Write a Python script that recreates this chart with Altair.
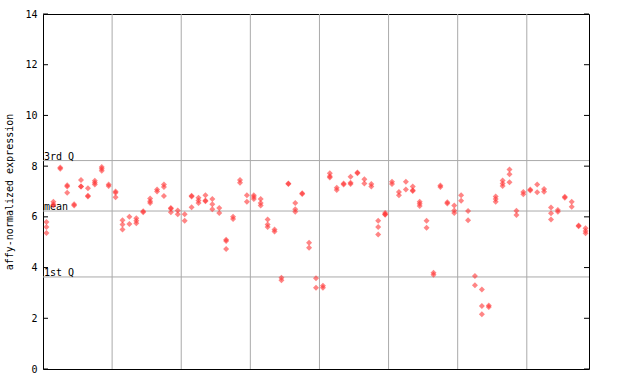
import altair as alt
import pandas as pd

# replicate expression values per sample column (79 samples)
sample_values = [
    [5.80, 5.60, 5.36], [6.60, 6.50, 6.45], [7.95, 7.90], [7.25, 7.20, 6.95],
    [6.50, 6.45], [7.45, 7.20, 7.20], [7.13, 6.83, 6.80], [7.42, 7.35, 7.28],
    [7.97, 7.90, 7.82], [7.28, 7.22], [7.00, 6.95, 6.77], [5.87, 5.70, 5.50],
    [6.00, 5.72], [5.95, 5.85, 5.75], [6.22, 6.18], [6.72, 6.62, 6.55],
    [7.08, 7.00], [7.28, 7.18, 6.82], [6.35, 6.32, 6.18], [6.25, 6.10],
    [6.10, 5.85], [6.83, 6.80, 6.38], [6.75, 6.65, 6.55], [6.85, 6.65, 6.62],
    [6.70, 6.50, 6.30], [6.35, 6.15], [5.10, 5.05, 4.73], [6.00, 5.92],
    [7.45, 7.35], [6.85, 6.60], [6.85, 6.78, 6.70], [6.70, 6.55, 6.45],
    [5.90, 5.70, 5.60], [5.50, 5.42], [3.60, 3.50], [7.32, 7.30],
    [6.55, 6.30, 6.20], [6.93, 6.90], [4.98, 4.78], [3.58, 3.20],
    [3.28, 3.20], [7.72, 7.60, 7.55], [7.15, 7.06], [7.32, 7.28],
    [7.58, 7.35, 7.30], [7.75, 7.72], [7.48, 7.32], [7.30, 7.20],
    [5.85, 5.60, 5.30], [6.15, 6.10, 6.08], [7.38, 7.30], [6.98, 6.85],
    [7.38, 7.08], [7.20, 7.05, 7.02], [6.60, 6.52, 6.43], [5.85, 5.57],
    [3.80, 3.72], [7.24, 7.18], [6.58, 6.53], [6.45, 6.25, 6.15],
    [6.85, 6.64], [6.23, 5.87], [3.67, 3.30], [3.14, 2.48, 2.16],
    [2.50, 2.45], [6.80, 6.70, 6.60], [7.43, 7.32, 7.22], [7.87, 7.68, 7.36],
    [6.24, 6.07], [6.98, 6.89], [7.08, 7.04], [7.28, 6.97],
    [7.10, 6.99], [6.37, 6.14, 5.90], [6.27, 6.20], [6.79, 6.75],
    [6.60, 6.40], [5.66, 5.63], [5.55, 5.44, 5.35],
]

grid_positions = [10, 20, 30, 40, 50, 60, 70]
ref_labels = ["3rd Q", "mean", "1st Q"]
ref_values = [8.22, 6.23, 3.63]
y_ticks = [0, 2, 4, 6, 8, 10, 12, 14]

rows = []
for i, vals in enumerate(sample_values):
    for v in vals:
        rows.append({"pos": i + 0.5, "value": v})
points = pd.DataFrame(rows)
grid_df = pd.DataFrame({"g": grid_positions})
ref_df = pd.DataFrame({"label": ref_labels, "value": ref_values})
tick_df = pd.DataFrame({"t": y_ticks})

n = len(sample_values)
xs = alt.Scale(domain=[0, n], nice=False, zero=False)
ys = alt.Scale(domain=[0, 14], nice=False, zero=False)
FONT = "DejaVu Sans Mono"

vgrid = alt.Chart(grid_df).mark_rule(color="#aaaaaa", strokeWidth=1).encode(
    x=alt.X("g:Q", scale=xs, axis=None)
)

hlines = alt.Chart(ref_df).mark_rule(color="#aaaaaa", strokeWidth=1).encode(
    y=alt.Y("value:Q", scale=ys)
)

hlabels = alt.Chart(ref_df).mark_text(
    align="left", baseline="bottom", font=FONT, fontSize=10, color="black", dx=1, dy=1
).encode(
    x=alt.value(0),
    y=alt.Y("value:Q", scale=ys),
    text="label:N",
)

left_ticks = alt.Chart(tick_df).mark_rule(color="black").encode(
    x=alt.value(0), x2=alt.value(5), y=alt.Y("t:Q", scale=ys)
)
right_ticks = alt.Chart(tick_df).mark_rule(color="black").encode(
    x=alt.value(541), x2=alt.value(546), y=alt.Y("t:Q", scale=ys)
)

pts = alt.Chart(points).mark_point(
    shape="diamond", filled=True, size=36, color="#ff3333", opacity=0.6
).encode(
    x=alt.X("pos:Q", scale=xs, axis=None),
    y=alt.Y(
        "value:Q",
        scale=ys,
        axis=alt.Axis(
            values=y_ticks,
            title="affy-normalized expression",
            titleFont=FONT,
            titleFontSize=10,
            titleFontWeight="normal",
            titlePadding=10,
            labelFont=FONT,
            labelFontSize=10,
            labelPadding=6,
            ticks=False,
            domain=False,
            grid=False,
            labelColor="black",
            titleColor="black",
        ),
    ),
)

chart = (
    alt.layer(vgrid, hlines, hlabels, left_ticks, right_ticks, pts)
    .properties(
        width=546,
        height=355,
        autosize=alt.AutoSizeParams(type="none"),
        padding={"left": 43, "top": 14, "right": 51, "bottom": 15},
        background="white",
    )
    .configure_view(stroke="black", strokeWidth=1)
)

chart.save("out.html", embed_options={"renderer": "svg", "actions": False})
